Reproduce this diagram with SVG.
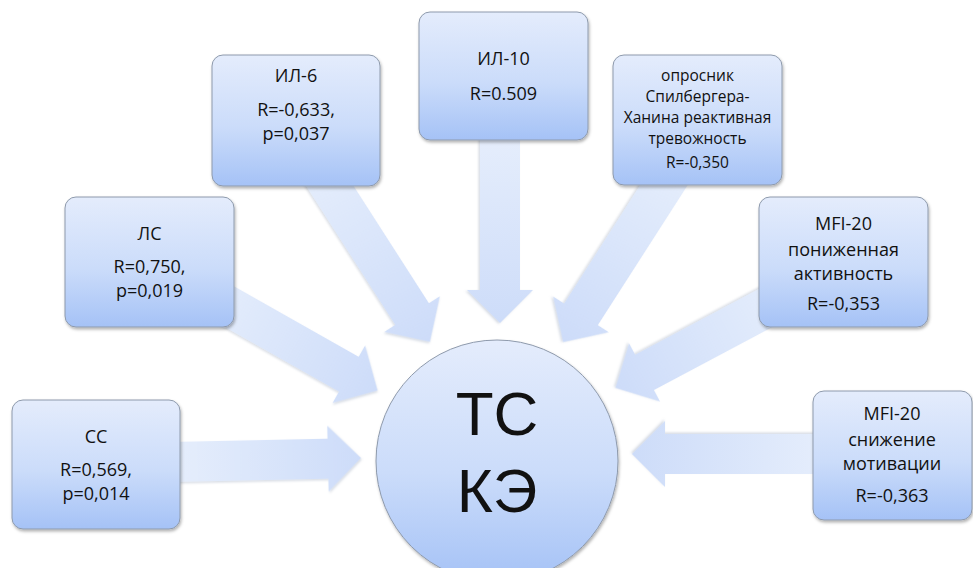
<svg xmlns="http://www.w3.org/2000/svg" width="973" height="568" viewBox="0 0 973 568">
<defs>
<linearGradient id="boxg" x1="0" y1="0" x2="0" y2="1">
<stop offset="0" stop-color="#e4ecfc"/>
<stop offset="0.55" stop-color="#cbdcfa"/>
<stop offset="1" stop-color="#a5c2f6"/>
</linearGradient>
<linearGradient id="arrg" x1="0" y1="0" x2="1" y2="0">
<stop offset="0" stop-color="#e6eefc"/>
<stop offset="1" stop-color="#cddcf9"/>
</linearGradient>
<filter id="sh" x="-20%" y="-20%" width="140%" height="140%">
<feDropShadow dx="1" dy="2" stdDeviation="1.8" flood-color="#000" flood-opacity="0.3"/>
</filter>
<filter id="ash" x="-20%" y="-20%" width="140%" height="140%">
<feDropShadow dx="1" dy="1.5" stdDeviation="1.2" flood-color="#7a8aa8" flood-opacity="0.3"/>
</filter>
</defs>
<style>
.box{fill:url(#boxg);stroke:#8e9aac;stroke-width:1;filter:url(#sh)}
.arr{fill:url(#arrg);filter:url(#ash)}
.t{font-family:"Open Sans","Noto Sans","Liberation Sans",sans-serif;font-size:18px;fill:#111;text-anchor:middle}
.s{font-size:15.5px}
.big{font-family:"Liberation Sans","Open Sans",sans-serif;font-size:62px}
</style>
<rect width="973" height="568" fill="#fff"/>
<g id="connectors">
<polygon class="arr" transform="translate(170,462) rotate(-1.2)" points="0,-20 158,-20 158,-33 191,0 158,33 158,20 0,20"/>
<polygon class="arr" transform="translate(200,290) rotate(29.5)" points="0,-20 171,-20 171,-33 204,0 171,33 171,20 0,20"/>
<polygon class="arr" transform="translate(310,155) rotate(57.3)" points="0,-20 189,-20 189,-33 222,0 189,33 189,20 0,20"/>
<polygon class="arr" transform="translate(500,130) rotate(90)" points="0,-20 160,-20 160,-33 193,0 160,33 160,20 0,20"/>
<polygon class="arr" transform="translate(682,157) rotate(122.7)" points="0,-20 187,-20 187,-33 220,0 187,33 187,20 0,20"/>
<polygon class="arr" transform="translate(792,294) rotate(152)" points="0,-20 167,-20 167,-33 200,0 167,33 167,20 0,20"/>
<polygon class="arr" transform="translate(830,454) rotate(180)" points="0,-20 165,-20 165,-33 198,0 165,33 165,20 0,20"/>
</g>
<g id="cc">
<rect class="box" x="12" y="400" width="168" height="129" rx="11"/>
<text class="t" x="96" y="443">СС</text>
<text class="t" x="96" y="476">R=0,569,</text>
<text class="t" x="96" y="500">p=0,014</text>
</g>
<g id="ls">
<rect class="box" x="65" y="197" width="169" height="130" rx="11"/>
<text class="t" x="149.5" y="240">ЛС</text>
<text class="t" x="149.5" y="273">R=0,750,</text>
<text class="t" x="149.5" y="297">p=0,019</text>
</g>
<g id="il6">
<rect class="box" x="212" y="55" width="168" height="131" rx="11"/>
<text class="t" x="296" y="82">ИЛ-6</text>
<text class="t" x="296" y="116">R=-0,633,</text>
<text class="t" x="296" y="140">p=0,037</text>
</g>
<g id="il10">
<rect class="box" x="419" y="12" width="169" height="128" rx="11"/>
<text class="t" x="503.5" y="65">ИЛ-10</text>
<text class="t" x="503.5" y="100">R=0.509</text>
</g>
<g id="spielberger">
<rect class="box" x="613" y="55" width="169" height="130" rx="11"/>
<text class="t s" x="697.5" y="81">опросник</text>
<text class="t s" x="697.5" y="102">Спилбергера-</text>
<text class="t s" x="697.5" y="123">Ханина реактивная</text>
<text class="t s" x="697.5" y="144">тревожность</text>
<text class="t s" x="697.5" y="168">R=-0,350</text>
</g>
<g id="mfi-activity">
<rect class="box" x="759" y="197" width="169" height="130" rx="11"/>
<text class="t" x="843.5" y="230">MFI-20</text>
<text class="t" x="843.5" y="256">пониженная</text>
<text class="t" x="843.5" y="280">активность</text>
<text class="t" x="843.5" y="310">R=-0,353</text>
</g>
<g id="mfi-motivation">
<rect class="box" x="813" y="391" width="159" height="129" rx="11"/>
<text class="t" x="892" y="420">MFI-20</text>
<text class="t" x="892" y="446">снижение</text>
<text class="t" x="892" y="470">мотивации</text>
<text class="t" x="892" y="502">R=-0,363</text>
</g>
<g id="center">
<circle class="box" cx="497" cy="461" r="121"/>
<text class="t big" x="497" y="435">ТС</text>
<text class="t big" x="497" y="512">КЭ</text>
</g>
</svg>
